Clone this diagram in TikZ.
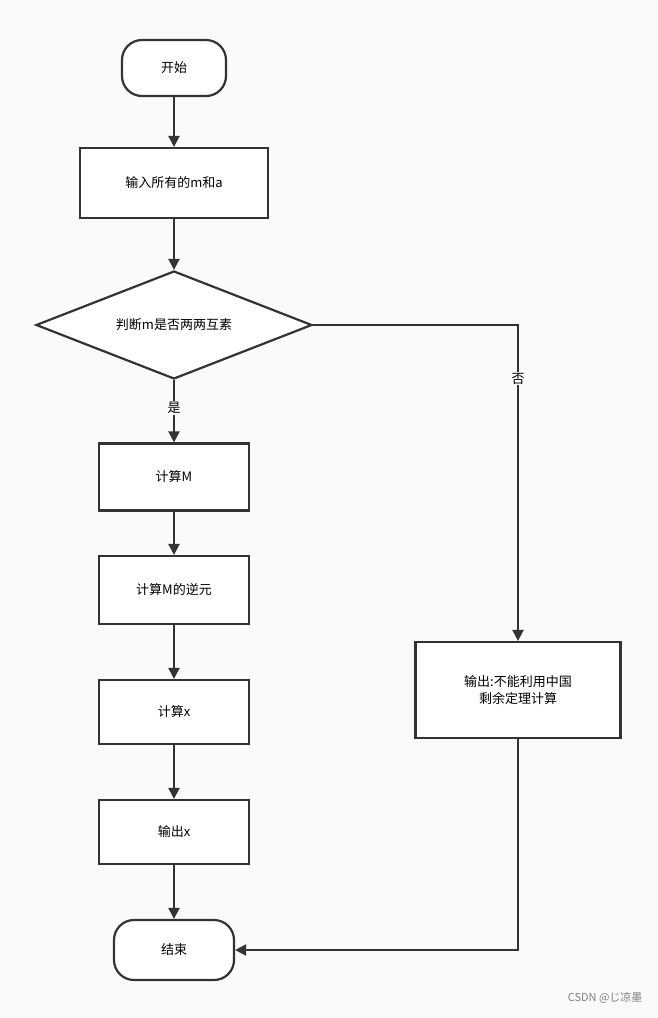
\documentclass[tikz,border=0pt]{standalone}
\usepackage{fontspec}
\setmainfont{Noto Sans CJK SC}
\usetikzlibrary{shapes.geometric,arrows.meta}
\definecolor{lineColor}{RGB}{51,51,51}
\definecolor{bgColor}{RGB}{250,250,250}
\tikzset{
  box/.style={draw=lineColor,line width=2.2pt,fill=white,rectangle,inner sep=0pt,font=\fontsize{13}{17}\selectfont,align=center},
  term/.style={box,rounded corners=20pt},
  flow/.style={draw=lineColor,line width=2.2pt,-{Triangle[length=11pt,width=11pt]}}
}
\begin{document}
\begin{tikzpicture}[x=1pt,y=-1pt]
\path[use as bounding box,fill=bgColor] (0,0) rectangle (658,1018);

\node[term,minimum width=104pt,minimum height=56pt] (start) at (174,68) {开始};
\node[box,minimum width=188pt,minimum height=70pt] (input) at (174,183) {输入所有的m和a};
\node[draw=lineColor,line width=2.2pt,fill=white,diamond,aspect=2.55,inner sep=0pt,
  minimum width=276pt,minimum height=108pt,font=\fontsize{13}{17}\selectfont] (check) at (174,325) {判断m是否两两互素};
\node[box,minimum width=150pt,minimum height=67pt] (calcM) at (174,477) {计算M};
\node[box,minimum width=150pt,minimum height=68pt] (inv) at (174,590) {计算M的逆元};
\node[box,minimum width=150pt,minimum height=64pt] (calcx) at (174,712) {计算x};
\node[box,minimum width=150pt,minimum height=64pt] (outx) at (174,832) {输出x};
\node[term,minimum width=120pt,minimum height=60pt] (stop) at (174,950) {结束};
\node[box,minimum width=205pt,minimum height=96pt] (fail) at (518,690) {输出:不能利用中国\\剩余定理计算};
\coordinate (turn1) at (518,325);
\coordinate (turn2) at (518,950);

\draw[flow] (start) -- (input);
\draw[flow] (input) -- (check);
\draw[flow] (check) -- node[fill=bgColor,inner sep=1pt,font=\fontsize{13}{17}\selectfont,pos=0.45] {是} (calcM);
\draw[flow] (calcM) -- (inv);
\draw[flow] (inv) -- (calcx);
\draw[flow] (calcx) -- (outx);
\draw[flow] (outx) -- (stop);
\draw[flow] (check.east) -- (turn1) -- node[fill=bgColor,inner sep=1pt,font=\fontsize{13}{17}\selectfont,pos=0.17] {否} (fail.north);
\draw[flow] (fail.south) -- (turn2) -- (stop.east);

\node[text=gray,font=\fontsize{11}{13}\selectfont,anchor=east] (mark) at (646,998) {CSDN @じ凉墨};
\end{tikzpicture}
\end{document}
